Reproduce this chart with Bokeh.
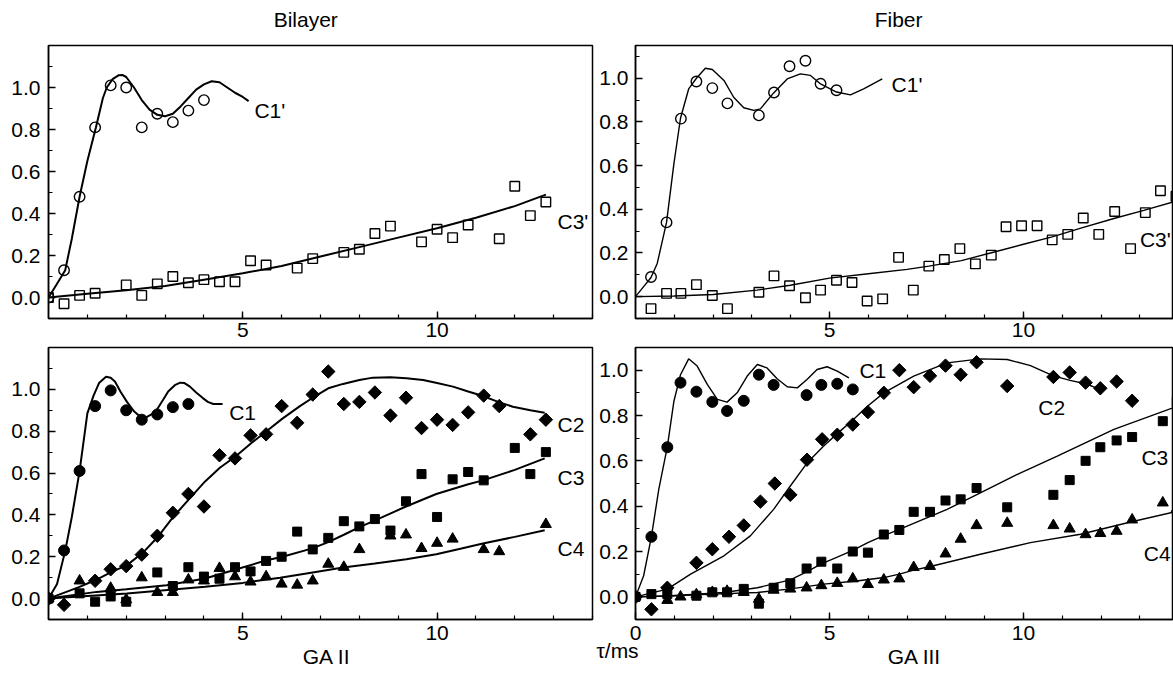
from bokeh.plotting import figure
from bokeh.layouts import row, column
from bokeh.models import FixedTicker, PrintfTickFormatter, LinearAxis, Range1d, Title
from bokeh.core.properties import value
from bokeh.embed import file_html
from bokeh.resources import INLINE

FONT = "Liberation Sans"

# ---------------- Bilayer, top (C1', C3') ----------------
bl_c1p_x = [0, 0.4, 0.8, 1.2, 1.6, 2.0, 2.4, 2.8, 3.2, 3.6, 4.0]
bl_c1p_y = [0.0, 0.13, 0.48, 0.81, 1.01, 1.0, 0.81, 0.875, 0.835, 0.89, 0.94]
bl_c1p_fit_x = [0, 0.2, 0.43, 0.6, 0.8, 1.0, 1.22, 1.4, 1.5, 1.65, 1.8, 1.9, 2.0, 2.2, 2.4, 2.6, 2.8,
                3.0, 3.2, 3.4, 3.6, 3.8, 4.0, 4.2, 4.4, 4.6, 4.8, 5.0, 5.15]
bl_c1p_fit_y = [0.0, 0.06, 0.13, 0.28, 0.48, 0.65, 0.81, 0.95, 1.0, 1.04, 1.058, 1.06, 1.05, 1.0, 0.94,
                0.895, 0.87, 0.863, 0.875, 0.91, 0.95, 0.99, 1.015, 1.03, 1.025, 1.0, 0.975, 0.955, 0.935]
bl_c3p_x = [0, 0.4, 0.8, 1.2, 2.0, 2.4, 2.8, 3.2, 3.6, 4.0, 4.4, 4.8, 5.2, 5.6, 6.4, 6.8, 7.6, 8.0,
            8.4, 8.8, 9.6, 10.0, 10.4, 10.8, 11.6, 12.0, 12.4, 12.8]
bl_c3p_y = [0.0, -0.03, 0.01, 0.02, 0.06, 0.01, 0.065, 0.10, 0.07, 0.085, 0.075, 0.075, 0.175, 0.155,
            0.14, 0.185, 0.215, 0.23, 0.305, 0.34, 0.265, 0.325, 0.285, 0.345, 0.28, 0.53, 0.39, 0.455]
bl_c3p_fit_x = [0, 1, 2, 3, 4, 5, 6, 7, 8, 9, 10, 11, 12, 12.8]
bl_c3p_fit_y = [0.0, 0.018, 0.035, 0.055, 0.085, 0.115, 0.15, 0.195, 0.24, 0.285, 0.33, 0.38, 0.435, 0.49]

# ---------------- Fiber, top (C1', C3') ----------------
fb_c1p_x = [0.4, 0.8, 1.17, 1.57, 1.98, 2.37, 3.18, 3.57, 3.97, 4.38, 4.77, 5.18]
fb_c1p_y = [0.09, 0.34, 0.815, 0.985, 0.955, 0.885, 0.83, 0.935, 1.055, 1.08, 0.975, 0.945]
fb_c1p_fit_x = [0, 0.21, 0.4, 0.56, 0.8, 0.99, 1.16, 1.37, 1.57, 1.8, 1.98, 2.28, 2.53, 2.79, 3.05,
                3.22, 3.56, 3.91, 4.25, 4.51, 4.77, 5.18, 5.54, 5.88, 6.36]
fb_c1p_fit_y = [0.0, 0.046, 0.088, 0.152, 0.34, 0.609, 0.817, 0.951, 1.0, 1.046, 1.04, 0.99, 0.913,
                0.865, 0.853, 0.86, 0.933, 0.997, 1.02, 1.013, 0.974, 0.937, 0.924, 0.951, 0.997]
fb_c3p_x = [0.4, 0.8, 1.17, 1.57, 1.98, 2.37, 3.18, 3.57, 3.97, 4.38, 4.77, 5.18, 5.58, 5.97, 6.37,
            6.78, 7.16, 7.56, 7.96, 8.36, 8.76, 9.17, 9.55, 9.95, 10.35, 10.74, 11.14, 11.54, 11.94,
            12.35, 12.76, 13.14, 13.53, 13.93]
fb_c3p_y = [-0.055, 0.015, 0.015, 0.055, 0.005, -0.055, 0.02, 0.095, 0.05, -0.005, 0.03, 0.075, 0.065,
            -0.02, -0.01, 0.18, 0.03, 0.14, 0.17, 0.22, 0.15, 0.19, 0.32, 0.325, 0.325, 0.26, 0.285,
            0.36, 0.285, 0.39, 0.22, 0.385, 0.485, 0.46]
fb_c3p_fit_x = [0, 1, 2, 3.13, 3.99, 5, 6, 7, 7.56, 8.4, 9.15, 10, 10.74, 11.5, 12.33, 13.1, 13.86]
fb_c3p_fit_y = [0.0, 0.003, 0.01, 0.03, 0.052, 0.085, 0.105, 0.125, 0.14, 0.165, 0.2, 0.24, 0.274,
                0.315, 0.358, 0.395, 0.434]

# ---------------- GA II (Bilayer, bottom) ----------------
g2_c1_x = [0, 0.4, 0.8, 1.2, 1.6, 2.0, 2.4, 2.8, 3.2, 3.6]
g2_c1_y = [0.0, 0.23, 0.61, 0.92, 0.995, 0.90, 0.855, 0.88, 0.915, 0.93]
g2_c1_fit_x = [0, 0.22, 0.43, 0.6, 0.8, 1.0, 1.16, 1.3, 1.48, 1.6, 1.71, 1.85, 2.02, 2.2, 2.36, 2.5,
               2.65, 2.78, 2.95, 3.08, 3.25, 3.39, 3.5, 3.64, 3.8, 3.98, 4.1, 4.24, 4.48]
g2_c1_fit_y = [0.0, 0.07, 0.228, 0.39, 0.609, 0.885, 0.97, 1.03, 1.06, 1.055, 1.037, 0.99, 0.94, 0.895,
               0.869, 0.865, 0.88, 0.90, 0.95, 0.99, 1.02, 1.032, 1.03, 1.013, 0.985, 0.957, 0.94,
               0.93, 0.93]
g2_c2_x = [0, 0.4, 1.2, 1.6, 2.0, 2.4, 2.8, 3.2, 3.6, 4.0, 4.4, 4.8, 5.2, 5.6, 6.0, 6.4, 6.8, 7.2,
           7.6, 8.0, 8.4, 8.8, 9.2, 9.6, 10.0, 10.4, 10.8, 11.2, 11.6, 12.4, 12.8]
g2_c2_y = [0.0, -0.03, 0.085, 0.14, 0.155, 0.21, 0.30, 0.41, 0.50, 0.44, 0.685, 0.67, 0.78, 0.785,
           0.92, 0.84, 0.975, 1.085, 0.93, 0.94, 0.985, 0.875, 0.96, 0.815, 0.855, 0.83, 0.89, 0.97,
           0.92, 0.785, 0.855]
g2_c2_fit_x = [0, 0.8, 1.24, 1.6, 2.02, 2.45, 2.83, 3.21, 3.64, 4.03, 4.41, 4.82, 5.23, 5.61, 6.02,
               6.47, 6.8, 7.2, 7.58, 8.0, 8.35, 8.8, 9.21, 9.64, 10.0, 10.41, 10.8, 11.18, 11.57,
               11.95, 12.4, 12.77]
g2_c2_fit_y = [0.0, 0.056, 0.091, 0.125, 0.16, 0.223, 0.298, 0.39, 0.48, 0.56, 0.625, 0.68, 0.745,
               0.80, 0.86, 0.92, 0.96, 1.005, 1.026, 1.045, 1.056, 1.058, 1.053, 1.045, 1.03, 1.013,
               0.99, 0.968, 0.94, 0.917, 0.90, 0.888]
g2_c3_x = [0, 0.8, 1.2, 1.6, 2.0, 2.8, 3.2, 3.6, 4.0, 4.4, 4.8, 5.2, 5.6, 6.0, 6.4, 6.8, 7.2, 7.6,
           8.0, 8.4, 8.8, 9.2, 9.6, 10.0, 10.4, 10.8, 11.2, 12.0, 12.4, 12.8]
g2_c3_y = [0.0, 0.025, -0.015, 0.01, -0.015, 0.125, 0.06, 0.15, 0.105, 0.095, 0.15, 0.13, 0.18, 0.2,
           0.32, 0.235, 0.29, 0.37, 0.345, 0.38, 0.325, 0.465, 0.595, 0.39, 0.57, 0.605, 0.565, 0.72,
           0.595, 0.70]
g2_c3_fit_x = [0, 1.24, 2.0, 3.04, 4.03, 4.82, 5.61, 6.0, 6.79, 7.2, 7.6, 7.99, 8.42, 9.2, 9.98,
               10.78, 11.18, 12.0, 12.77]
g2_c3_fit_y = [0.0, 0.032, 0.045, 0.064, 0.096, 0.139, 0.183, 0.199, 0.24, 0.27, 0.305, 0.34, 0.375,
               0.44, 0.50, 0.545, 0.565, 0.615, 0.67]
g2_c4_x = [0, 0.8, 1.6, 2.0, 2.4, 2.8, 3.2, 3.6, 4.0, 4.4, 4.8, 5.2, 5.6, 6.0, 6.4, 6.8, 7.2, 7.6,
           8.0, 8.8, 9.2, 9.6, 10.0, 10.4, 11.2, 11.6, 12.8]
g2_c4_y = [0.0, 0.085, 0.05, -0.005, 0.1, 0.03, 0.03, 0.09, 0.085, 0.145, 0.105, 0.08, 0.105, 0.07,
           0.065, 0.085, 0.165, 0.15, 0.235, 0.30, 0.305, 0.24, 0.265, 0.285, 0.235, 0.225, 0.355]
g2_c4_fit_x = [0, 2.02, 4.03, 5.0, 5.96, 6.8, 7.58, 8.4, 9.21, 9.98, 10.6, 11.18, 12.0, 12.77]
g2_c4_fit_y = [0.0, 0.024, 0.056, 0.075, 0.1, 0.125, 0.148, 0.168, 0.188, 0.212, 0.238, 0.263,
               0.295, 0.327]

# ---------------- GA III (Fiber, bottom) ----------------
g3_c1_x = [0, 0.41, 0.82, 1.16, 1.57, 1.98, 2.36, 2.79, 3.18, 3.56, 4.41, 4.79, 5.2, 5.6]
g3_c1_y = [0.0, 0.265, 0.66, 0.945, 0.905, 0.86, 0.82, 0.865, 0.98, 0.935, 0.89, 0.935, 0.94, 0.915]
g3_c1_fit_x = [0, 0.21, 0.41, 0.6, 0.82, 0.99, 1.16, 1.37, 1.59, 1.85, 2.11, 2.36, 2.62, 2.88, 3.14,
               3.39, 3.65, 3.91, 4.17, 4.42, 4.68, 4.94, 5.2, 5.5]
g3_c1_fit_y = [0.0, 0.093, 0.266, 0.474, 0.662, 0.863, 0.98, 1.05, 1.018, 0.937, 0.871, 0.859, 0.9,
               0.974, 1.025, 1.01, 0.962, 0.927, 0.922, 0.959, 1.003, 1.015, 0.996, 0.966]
g3_c2_x = [0, 0.41, 0.82, 1.57, 1.98, 2.41, 2.79, 3.22, 3.59, 3.99, 4.42, 4.81, 5.2, 5.6, 5.99, 6.4,
           6.8, 7.17, 7.59, 7.99, 8.38, 8.79, 9.58, 10.77, 11.19, 11.6, 11.98, 12.4, 12.8]
g3_c2_y = [0.0, -0.055, 0.04, 0.15, 0.21, 0.265, 0.315, 0.42, 0.5, 0.45, 0.605, 0.695, 0.715, 0.76,
           0.815, 0.9, 1.0, 0.925, 0.975, 1.02, 0.98, 1.035, 0.93, 0.97, 0.99, 0.945, 0.92, 0.95, 0.865]
g3_c2_fit_x = [0, 0.82, 1.42, 2.28, 2.96, 3.56, 3.99, 4.42, 4.85, 5.2, 5.63, 5.97, 6.4, 7.17, 8.03,
               8.89, 9.58, 10.18, 10.77, 11.2, 11.6, 11.98]
g3_c2_fit_y = [0.0, 0.034, 0.1, 0.181, 0.269, 0.386, 0.489, 0.59, 0.665, 0.72, 0.785, 0.84, 0.9,
               0.974, 1.032, 1.05, 1.047, 1.02, 0.975, 0.955, 0.94, 0.915]
g3_c3_x = [0, 0.41, 0.82, 1.57, 1.98, 2.36, 2.79, 3.18, 3.56, 3.99, 4.41, 4.79, 5.2, 5.6, 5.99, 6.4,
           6.8, 7.17, 7.59, 7.99, 8.38, 8.79, 9.58, 10.77, 11.19, 11.6, 11.98, 12.4, 12.8, 13.59, 13.95]
g3_c3_y = [0.0, 0.012, 0.012, 0.005, 0.02, 0.02, 0.035, -0.03, 0.04, 0.06, 0.125, 0.155, 0.125, 0.2,
           0.195, 0.275, 0.295, 0.375, 0.375, 0.425, 0.43, 0.48, 0.395, 0.45, 0.515, 0.6, 0.66, 0.69,
           0.705, 0.775, 0.86]
g3_c3_fit_x = [0, 0.82, 2.28, 3.14, 3.99, 4.41, 4.79, 5.2, 5.6, 6.0, 6.4, 6.8, 8.03, 8.81, 9.75,
               10.87, 12.33, 13.85]
g3_c3_fit_y = [0.0, 0.004, 0.019, 0.04, 0.075, 0.11, 0.145, 0.175, 0.205, 0.24, 0.27, 0.298, 0.386,
               0.452, 0.533, 0.621, 0.739, 0.834]
g3_c4_x = [0, 0.82, 1.16, 1.57, 1.98, 2.36, 2.79, 3.18, 3.56, 3.99, 4.41, 4.79, 5.2, 5.6, 5.99, 6.4,
           6.8, 7.17, 7.59, 7.99, 8.38, 8.79, 9.58, 10.77, 11.19, 11.6, 11.98, 12.4, 12.8, 13.59, 13.95]
g3_c4_y = [0.0, -0.015, 0.0, 0.01, 0.02, 0.025, 0.02, -0.01, 0.03, 0.035, 0.04, 0.05, 0.06, 0.08,
           0.055, 0.075, 0.08, 0.13, 0.135, 0.19, 0.255, 0.315, 0.325, 0.315, 0.3, 0.275, 0.28, 0.29,
           0.34, 0.415, 0.39]
g3_c4_fit_x = [0, 1, 2, 3.14, 4, 4.85, 5.7, 6.4, 6.8, 7.17, 7.6, 8.89, 10.18, 11.47, 12.76, 13.87]
g3_c4_fit_y = [0.0, 0.005, 0.012, 0.019, 0.035, 0.056, 0.07, 0.085, 0.1, 0.118, 0.134, 0.188, 0.239,
               0.276, 0.33, 0.374]

x_major = [5, 10]
x_major_br = [0, 5, 10]
x_minor = [1, 2, 3, 4, 5, 6, 7, 8, 9, 10, 11, 12, 13, 14]
y_major = [0.0, 0.2, 0.4, 0.6, 0.8, 1.0]
y_minor = [-0.1, 0.0, 0.1, 0.2, 0.3, 0.4, 0.5, 0.6, 0.7, 0.8, 0.9, 1.0, 1.1, 1.2]

FS = "21px"


def style_axis(ax, ticks, minor, fmt=None, standoff=6):
    ax.ticker = FixedTicker(ticks=ticks, minor_ticks=minor)
    ax.axis_line_color = "black"
    ax.axis_line_width = 1.5
    ax.major_tick_in = 7
    ax.major_tick_out = 0
    ax.minor_tick_in = 4
    ax.minor_tick_out = 0
    ax.major_tick_line_color = "black"
    ax.minor_tick_line_color = "black"
    ax.major_tick_line_width = 1.4
    ax.minor_tick_line_width = 1.2
    ax.major_label_text_font = FONT
    ax.major_label_text_color = "black"
    ax.major_label_text_font_size = FS
    ax.major_label_standoff = standoff
    if fmt is not None:
        ax.formatter = fmt


def text_axis(p, ticks, labels, standoff, side="below"):
    ax = LinearAxis(ticker=FixedTicker(ticks=ticks, minor_ticks=[]),
                    major_label_overrides=dict(zip(ticks, labels)))
    ax.axis_line_color = None
    ax.major_tick_line_color = None
    ax.minor_tick_line_color = None
    ax.major_tick_in = 0
    ax.major_tick_out = 0
    ax.minor_tick_in = 0
    ax.minor_tick_out = 0
    ax.major_label_standoff = standoff
    ax.major_label_text_font = FONT
    ax.major_label_text_font_size = FS
    ax.major_label_text_color = "black"
    p.add_layout(ax, side)


def panel(width, height, x_end, y_end, mbl, mbr, mbt, mbb, xticks, xstand, ystand):
    p = figure(width=width, height=height, x_range=Range1d(0, x_end), y_range=Range1d(-0.1, y_end),
               output_backend="svg", toolbar_location=None,
               min_border_left=mbl, min_border_right=mbr, min_border_top=mbt, min_border_bottom=mbb)
    p.grid.visible = False
    p.outline_line_color = "black"
    p.outline_line_width = 1.5
    p.background_fill_color = "white"
    p.border_fill_color = "white"
    style_axis(p.xaxis[0], xticks, x_minor, None, xstand)
    style_axis(p.yaxis[0], y_major, y_minor, PrintfTickFormatter(format="%.1f"), ystand)
    return p


def curve_text(p, xs, ys, texts):
    p.text(x=xs, y=ys, text=texts, text_font=value(FONT), text_font_size=value(FS),
           text_color="black", text_baseline="middle", text_align="left")


def open_marks(p, x, y, marker, size):
    p.scatter(x, y, marker=marker, size=size, fill_color=None, line_color="black", line_width=1.4)


def filled_marks(p, x, y, marker, size, angle=0.0):
    p.scatter(x, y, marker=marker, size=size, fill_color="black", line_color="black",
              line_width=1, angle=angle)


TOP_H = 346
BOT_H = 328
LEFT_W = 594
RIGHT_W = 579
RIGHT_XEND = 538 / 38.8

# Bilayer top
tl = panel(LEFT_W, TOP_H, 14, 1.2, 48, 2, 45, 28, x_major, 4, 8)
tl.line(bl_c1p_fit_x, bl_c1p_fit_y, line_color="black", line_width=2.0)
tl.line(bl_c3p_fit_x, bl_c3p_fit_y, line_color="black", line_width=2.0)
open_marks(tl, bl_c1p_x, bl_c1p_y, "circle", 10.5)
open_marks(tl, bl_c3p_x, bl_c3p_y, "square", 9.5)
curve_text(tl, [5.3, 13.1], [0.89, 0.36], ["C1'", "C3'"])
text_axis(tl, [6.62], ["Bilayer"], 15, "above")

# Fiber top
tr = panel(RIGHT_W, TOP_H, RIGHT_XEND, 1.15, 41, 0, 45, 28, x_major, 4, 7)
tr.line(fb_c1p_fit_x, fb_c1p_fit_y, line_color="black", line_width=1.4)
tr.line(fb_c3p_fit_x, fb_c3p_fit_y, line_color="black", line_width=1.4)
open_marks(tr, fb_c1p_x, fb_c1p_y, "circle", 10.5)
open_marks(tr, fb_c3p_x, fb_c3p_y, "square", 9.5)
curve_text(tr, [6.6, 13.0], [0.97, 0.26], ["C1'", "C3'"])
text_axis(tr, [6.78], ["Fiber"], 15, "above")

# GA II bottom-left
bl = panel(LEFT_W, BOT_H, 14, 1.2, 48, 2, 1, 55, x_major, 6, 8)
for fx, fy in [(g2_c1_fit_x, g2_c1_fit_y), (g2_c2_fit_x, g2_c2_fit_y),
               (g2_c3_fit_x, g2_c3_fit_y), (g2_c4_fit_x, g2_c4_fit_y)]:
    bl.line(fx, fy, line_color="black", line_width=2.0)
filled_marks(bl, g2_c1_x, g2_c1_y, "circle", 11)
filled_marks(bl, g2_c2_x, g2_c2_y, "square", 9.5, 0.785398)
filled_marks(bl, g2_c3_x, g2_c3_y, "square", 9)
filled_marks(bl, g2_c4_x, g2_c4_y, "triangle", 11)
curve_text(bl, [4.65, 13.1, 13.1, 13.1], [0.89, 0.83, 0.58, 0.24], ["C1", "C2", "C3", "C4"])
text_axis(bl, [7.16], ["GA II"], 2)

# GA III bottom-right
br = panel(RIGHT_W, BOT_H, RIGHT_XEND, 1.1, 41, 0, 1, 55, x_major_br, 6, 7)
for fx, fy in [(g3_c1_fit_x, g3_c1_fit_y), (g3_c2_fit_x, g3_c2_fit_y),
               (g3_c3_fit_x, g3_c3_fit_y), (g3_c4_fit_x, g3_c4_fit_y)]:
    br.line(fx, fy, line_color="black", line_width=1.4)
filled_marks(br, g3_c1_x, g3_c1_y, "circle", 11)
filled_marks(br, g3_c2_x, g3_c2_y, "square", 9.5, 0.785398)
filled_marks(br, g3_c3_x, g3_c3_y, "square", 9)
filled_marks(br, g3_c4_x, g3_c4_y, "triangle", 11)
curve_text(br, [5.77, 10.38, 13.04, 13.1], [1.0, 0.835, 0.615, 0.19], ["C1", "C2", "C3", "C4"])
text_axis(br, [7.19], ["GA III"], 2)
br.add_layout(Title(text="τ/ms", align="left", offset=-39, vertical_align="top", standoff=-63,
                    text_font=FONT, text_font_size=FS, text_font_style="normal",
                    text_color="black"), "below")

layout = column(row(tl, tr), row(bl, br))

open("out.html", "w").write(file_html(layout, INLINE))
